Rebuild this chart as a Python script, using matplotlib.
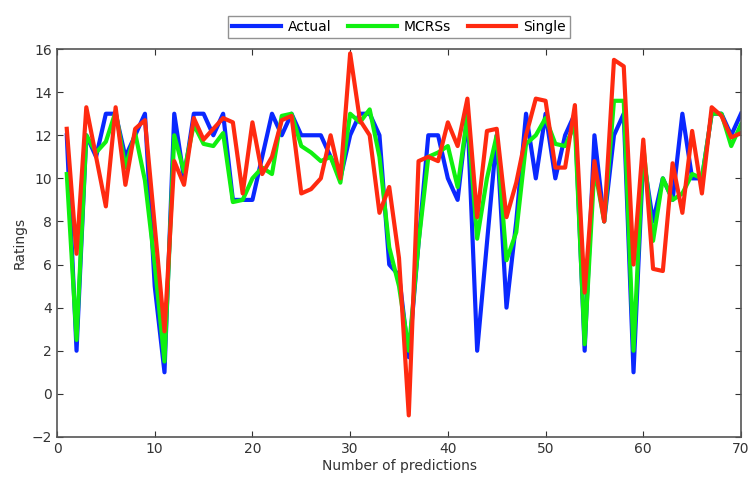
import matplotlib
matplotlib.use('Agg')
import matplotlib.pyplot as plt
import numpy as np

# === DATA (predictions 1-70) ===
steps = list(range(1, 71))
actual = [
    12, 2, 12, 11, 13, 13, 11, 12, 13, 5,
    1, 13, 10, 13, 13, 12, 13, 9, 9, 9,
    11, 13, 12, 13, 12, 12, 12, 11, 10, 12,
    13, 13, 12, 6, 5.5, 1.7, 7, 12, 12, 10,
    9, 13, 2, 7, 12, 4, 8, 13, 10, 13,
    10, 12, 13, 2, 12, 8, 12, 13, 1, 11,
    8, 10, 9, 13, 10, 10, 13, 13, 12, 13,
]
mcrss = [
    10.2, 2.5, 12, 11.2, 11.7, 13.1, 10.5, 12.1, 9.9, 6,
    1.5, 12, 10.3, 12.5, 11.6, 11.5, 12.1, 8.9, 9.0, 10,
    10.5, 10.2, 12.9, 13, 11.5, 11.2, 10.8, 11, 9.8, 13,
    12.6, 13.2, 11, 6.8, 5, 2, 7, 11, 11.2, 11.5,
    9.6, 12.9, 7.2, 10, 12.0, 6.2, 7.5, 11.6, 12, 12.8,
    11.6, 11.5, 12.5, 2.3, 10.5, 8, 13.6, 13.6, 2, 11.5,
    7.1, 10, 9.0, 9.3, 10.2, 10, 13, 13, 11.5, 12.5,
]
single = [
    12.3, 6.5, 13.3, 11, 8.7, 13.3, 9.7, 12.3, 12.7, 7.8,
    2.9, 10.8, 9.7, 12.8, 11.8, 12.3, 12.8, 12.6, 9.3, 12.6,
    10.2, 11, 12.7, 12.9, 9.3, 9.5, 10, 12, 10, 15.8,
    12.7, 12, 8.4, 9.6, 6.3, -1, 10.8, 11, 10.8, 12.6,
    11.5, 13.7, 8.2, 12.2, 12.3, 8.2, 9.8, 12, 13.7, 13.6,
    10.5, 10.5, 13.4, 4.7, 10.8, 8, 15.5, 15.2, 6, 11.8,
    5.8, 5.7, 10.7, 8.4, 12.2, 9.3, 13.3, 12.9, 11.9, 12.1,
]

# === CHART ===
fig = plt.figure(figsize=(7.5, 4.86), dpi=100)
ax = fig.add_axes([0.076, 0.101, 0.912, 0.798])

ax.plot(steps, actual, color='#0a28ff', linewidth=3, label='Actual')
ax.plot(steps, mcrss, color='#10f010', linewidth=3, label='MCRSs')
ax.plot(steps, single, color='#ff2a10', linewidth=3, label='Single')

ax.set_xlim(0, 70)
ax.set_ylim(-2, 16)
ax.set_xticks(range(0, 71, 10))
ax.set_yticks(range(-2, 17, 2))
ax.set_xlabel('Number of predictions', fontsize=10, color='#333333', labelpad=2)
ax.set_ylabel('Ratings', fontsize=10, color='#333333', labelpad=4)
ax.tick_params(direction='in', top=True, right=True, labelsize=10,
               colors='#333333', length=4)
for spine in ax.spines.values():
    spine.set_color('#555555')
    spine.set_linewidth(1.2)

ax.legend(loc='lower center', bbox_to_anchor=(0.5, 1.01), ncol=3,
          fontsize=10, frameon=True, fancybox=False, edgecolor='#777777',
          handlelength=3.5, columnspacing=1.2, handletextpad=0.5,
          borderpad=0.3)

plt.savefig('out.png', dpi=100)
plt.close()
